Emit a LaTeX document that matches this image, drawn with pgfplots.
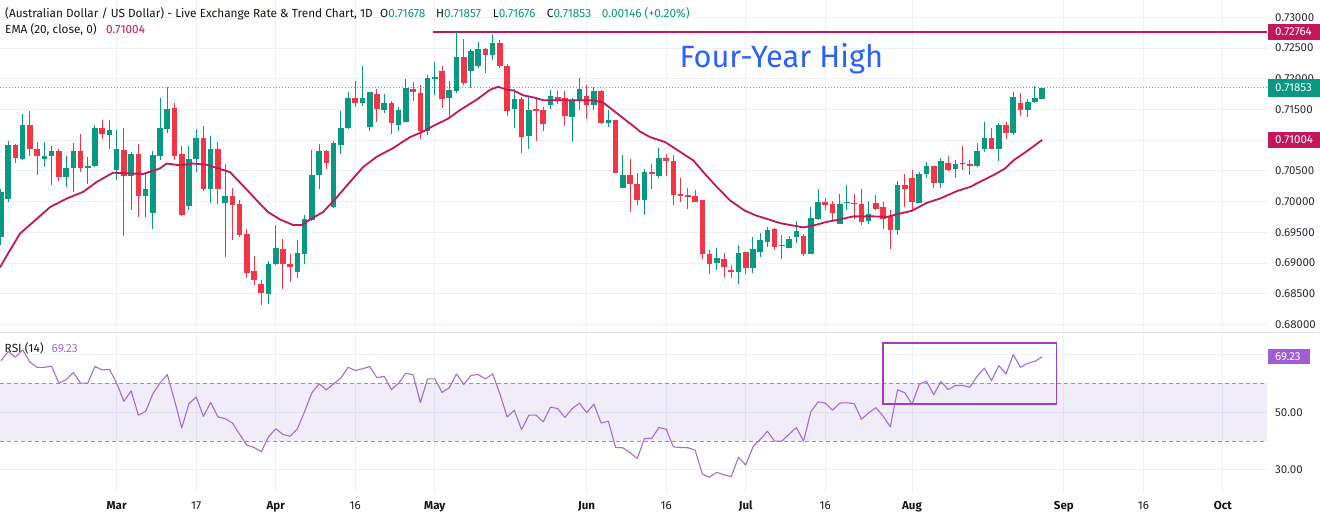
\documentclass[border=0pt]{standalone}
\usepackage{pgfplots}
\pgfplotsset{compat=1.18}
\usepackage{pgfplotstable}
\usepackage{fontspec}
\setmainfont{Fira Sans}
\definecolor{cgreen}{HTML}{089981}
\definecolor{cred}{HTML}{F23645}
\definecolor{cema}{HTML}{C2185B}
\definecolor{ctext}{HTML}{131722}
\definecolor{caxis}{HTML}{2A2E39}
\definecolor{cgrid}{HTML}{EEF1F6}
\definecolor{csep}{HTML}{E0E3EB}
\definecolor{crsi}{HTML}{A66BDC}
\definecolor{cband}{HTML}{7E57C2}
\definecolor{cdash}{HTML}{9598A1}
\definecolor{cbox}{HTML}{A23DC2}
\definecolor{crsilab}{HTML}{A25DD6}
\definecolor{cblue}{HTML}{2962FF}
\newcommand{\axfont}{\fontsize{11.5}{13}\selectfont}
\newcommand{\ttlfont}{\fontsize{11.8}{14}\selectfont}

\pgfplotstableread{
i o h l c
1 0.69423 0.70200 0.69300 0.70156
2 0.70049 0.70988 0.70000 0.70918
4 0.70701 0.71423 0.70673 0.71244
7 0.70700 0.70967 0.70564 0.70744
8 0.70739 0.70902 0.70277 0.70820
10 0.70400 0.70750 0.70238 0.70555
11 0.70543 0.70955 0.70156 0.70820
13 0.70548 0.70727 0.70293 0.70587
14 0.70581 0.71244 0.70570 0.71190
16 0.71092 0.71325 0.70864 0.71163
17 0.70511 0.71163 0.70347 0.70858
19 0.70424 0.70810 0.69858 0.70771
21 0.70086 0.70456 0.69750 0.70212
22 0.69814 0.70820 0.69560 0.70755
23 0.70739 0.71680 0.70670 0.71190
24 0.71184 0.71869 0.71118 0.71505
27 0.69923 0.70907 0.69858 0.70700
28 0.70695 0.71174 0.70483 0.71037
30 0.70212 0.71076 0.69977 0.70858
32 0.69977 0.70608 0.69097 0.70091
38 0.68500 0.69026 0.68337 0.68989
39 0.68989 0.69614 0.68961 0.69250
42 0.68852 0.69369 0.68761 0.69162
43 0.69152 0.69777 0.68989 0.69723
44 0.69706 0.70836 0.69690 0.70440
45 0.70440 0.70934 0.70212 0.70820
47 0.69912 0.70983 0.69900 0.70946
48 0.70929 0.71477 0.70782 0.71190
49 0.71190 0.71777 0.71180 0.71680
51 0.71598 0.72206 0.71553 0.71680
52 0.71216 0.71790 0.71151 0.71777
54 0.71488 0.71750 0.71435 0.71598
56 0.71255 0.71543 0.71146 0.71488
57 0.71298 0.71989 0.71290 0.71852
60 0.71146 0.72059 0.71081 0.72005
61 0.71989 0.72266 0.71733 0.72022
63 0.71680 0.71966 0.71353 0.71815
64 0.71804 0.72765 0.71771 0.72358
66 0.72125 0.72483 0.71849 0.72451
67 0.72211 0.72592 0.72179 0.72483
69 0.72390 0.72723 0.72304 0.72576
72 0.71500 0.71826 0.71190 0.71668
74 0.71064 0.71718 0.70864 0.71488
77 0.71570 0.71815 0.71505 0.71717
80 0.71380 0.71680 0.70972 0.71635
81 0.71635 0.72005 0.71488 0.71831
83 0.71570 0.71869 0.71494 0.71804
85 0.71281 0.71488 0.71216 0.71325
87 0.70228 0.70766 0.70220 0.70440
90 0.70032 0.70538 0.69788 0.70478
92 0.70412 0.70874 0.70391 0.70717
100 0.68999 0.69250 0.68880 0.69086
103 0.68852 0.69287 0.68651 0.69168
105 0.68917 0.69423 0.68836 0.69233
106 0.69178 0.69488 0.69097 0.69380
107 0.69341 0.69586 0.69260 0.69532
110 0.69243 0.69434 0.69240 0.69385
111 0.69423 0.69679 0.69325 0.69516
113 0.69152 0.69912 0.69140 0.69740
114 0.69723 0.70200 0.69695 0.69993
117 0.69641 0.70130 0.69630 0.69967
118 0.69972 0.70266 0.69858 0.69988
121 0.69684 0.70005 0.69641 0.69793
125 0.69543 0.70331 0.69462 0.70277
128 0.69977 0.70483 0.69970 0.70456
129 0.70456 0.70646 0.70391 0.70575
131 0.70304 0.70717 0.70228 0.70662
133 0.70527 0.70685 0.70391 0.70620
136 0.70581 0.70955 0.70564 0.70820
137 0.70853 0.71298 0.70809 0.71037
139 0.70864 0.71282 0.70662 0.71244
141 0.71118 0.71787 0.71081 0.71696
143 0.71488 0.71663 0.71380 0.71614
144 0.71624 0.71880 0.71598 0.71689
145 0.71678 0.71857 0.71676 0.71853
}\upc

\pgfplotstableread{
i o h l c
3 0.70923 0.70940 0.70630 0.70717
5 0.71244 0.71472 0.70750 0.70853
6 0.70858 0.70967 0.70429 0.70739
9 0.70820 0.70858 0.70331 0.70400
12 0.70820 0.71108 0.70483 0.70543
15 0.71190 0.71325 0.71027 0.71097
18 0.70847 0.71206 0.69439 0.70424
20 0.70771 0.70930 0.69750 0.70086
25 0.71526 0.71598 0.70683 0.70750
26 0.70771 0.70907 0.69760 0.69776
29 0.71037 0.71228 0.70173 0.70212
31 0.70864 0.70972 0.69969 0.70212
33 0.70091 0.70228 0.69380 0.69950
34 0.69956 0.70032 0.69423 0.69450
35 0.69472 0.69550 0.68761 0.68842
36 0.68875 0.69108 0.68635 0.68728
37 0.68656 0.68728 0.68325 0.68510
40 0.69233 0.69396 0.68581 0.68989
41 0.68989 0.69152 0.68689 0.68934
46 0.70820 0.70848 0.70538 0.70636
50 0.71680 0.71966 0.71532 0.71598
53 0.71750 0.71826 0.71298 0.71505
55 0.71608 0.71635 0.71108 0.71272
58 0.71831 0.71940 0.71635 0.71787
59 0.71761 0.71896 0.71027 0.71146
62 0.72129 0.72206 0.71526 0.71663
65 0.72348 0.72641 0.71891 0.71924
68 0.72483 0.72500 0.72087 0.72385
70 0.72586 0.72630 0.72169 0.72206
71 0.72206 0.72234 0.71396 0.71477
73 0.71663 0.71706 0.70793 0.71053
75 0.71500 0.71680 0.70988 0.71477
76 0.71488 0.71532 0.71151 0.71260
78 0.71706 0.71793 0.71581 0.71652
79 0.71680 0.71793 0.71228 0.71396
82 0.71717 0.71896 0.71342 0.71570
84 0.71804 0.71820 0.71270 0.71272
86 0.71325 0.71330 0.70460 0.70467
88 0.70440 0.70690 0.69837 0.70282
89 0.70282 0.70467 0.69940 0.70032
91 0.70483 0.70620 0.70200 0.70456
93 0.70717 0.70782 0.70412 0.70662
94 0.70657 0.70766 0.69940 0.70102
95 0.70130 0.70391 0.69993 0.70098
96 0.70102 0.70228 0.69886 0.70075
97 0.70091 0.70184 0.69990 0.69993
98 0.70021 0.70025 0.69059 0.69140
99 0.69152 0.69217 0.68815 0.68989
101 0.69070 0.69168 0.68770 0.68934
102 0.68890 0.68961 0.68761 0.68852
104 0.69178 0.69180 0.68815 0.68917
108 0.69559 0.69570 0.69217 0.69260
109 0.69287 0.69462 0.69059 0.69271
112 0.69439 0.69478 0.69113 0.69152
115 0.69988 0.70065 0.69858 0.69950
116 0.69956 0.70005 0.69684 0.69820
119 0.69983 0.70119 0.69723 0.69967
120 0.69967 0.70212 0.69614 0.69667
122 0.69977 0.70102 0.69858 0.69886
123 0.69912 0.69993 0.69560 0.69711
124 0.69760 0.69869 0.69222 0.69543
126 0.70277 0.70445 0.69912 0.70205
127 0.70391 0.70510 0.69858 0.69993
130 0.70575 0.70580 0.70228 0.70304
132 0.70630 0.70739 0.70494 0.70510
134 0.70625 0.70902 0.70510 0.70614
135 0.70620 0.70685 0.70440 0.70581
138 0.71037 0.71190 0.70850 0.70853
140 0.71244 0.71298 0.71027 0.71118
142 0.71608 0.71761 0.71396 0.71488
}\dnc

\pgfplotstableread{
i v
0.862 0.6893
2.245 0.6921
3.628 0.6948
5.467 0.6967
7.777 0.6991
10.09 0.7005
12.38 0.7016
14.24 0.7032
16.49 0.7047
20.64 0.7045
22.99 0.7054
23.92 0.7062
25.76 0.7059
27.56 0.7062
29.45 0.7060
32.67 0.7048
34.47 0.7026
36.37 0.7002
37.93 0.6983
39.59 0.6971
41.39 0.6962
42.59 0.6962
43.74 0.6971
45.54 0.6983
47.43 0.7007
49.27 0.7032
51.07 0.7056
52.96 0.7073
55.22 0.7087
57.57 0.7105
59.37 0.7114
60.75 0.7123
62.83 0.7135
64.49 0.7149
66.80 0.7166
68.64 0.7182
69.78 0.7187
70.95 0.7182
71.86 0.7181
73.24 0.7173
74.86 0.7169
76.01 0.7165
78.32 0.7165
80.63 0.7165
82.92 0.7165
84.31 0.7161
86.16 0.7144
88.46 0.7123
89.38 0.7114
90.77 0.7105
92.84 0.7097
94.92 0.7081
96.76 0.7067
98.14 0.7048
99.99 0.7024
101.83 0.7002
103.90 0.6985
105.52 0.6977
106.91 0.6972
108.75 0.6965
110.59 0.6961
111.97 0.6958
113.35 0.6961
115.20 0.6967
117.04 0.6971
118.88 0.6976
121.65 0.6976
123.50 0.6975
125.11 0.6980
126.96 0.6985
129.04 0.6998
130.88 0.7005
133.19 0.7017
135.03 0.7024
136.87 0.7035
138.25 0.7043
139.87 0.7054
141.02 0.7067
142.87 0.7082
145 0.71004
}\ema

\pgfplotstableread{
i r
1 67.9
2 71.1
3 69.1
4 71.6
5 67.4
6 65.6
7 65.6
8 66.0
9 60.1
10 61.3
11 63.8
12 60.1
13 60.1
14 65.9
15 64.7
16 64.9
17 60.1
18 53.8
19 57.4
20 49.0
21 50.3
22 56.4
23 60.2
24 63.1
25 54.1
26 44.6
27 53.0
28 55.3
29 48.6
30 53.4
31 48.4
32 47.8
33 46.3
34 42.4
35 38.6
36 37.8
37 36.3
38 41.5
39 44.3
40 42.3
41 41.7
42 44.3
43 50.3
44 56.8
45 59.9
46 57.8
47 59.9
48 61.8
49 65.6
50 64.5
51 65.1
52 65.9
53 62.0
54 62.5
55 57.9
56 60.1
57 63.6
58 63.0
59 53.4
60 61.6
61 61.6
62 56.9
63 58.5
64 63.3
65 59.7
66 62.8
67 63.1
68 61.6
69 63.3
70 56.4
71 48.4
72 50.7
73 44.0
74 49.0
75 49.0
76 46.7
77 51.8
78 51.3
79 48.2
80 51.3
81 53.2
82 49.9
83 52.8
84 46.3
85 46.9
86 37.8
87 37.7
88 36.0
89 34.0
90 40.9
91 40.9
92 44.7
93 44.1
94 38.0
95 37.8
96 37.7
97 36.9
98 28.6
99 27.5
100 29.2
101 28.3
102 27.7
103 34.4
104 31.7
105 38.0
106 40.6
107 43.4
108 40.0
109 40.0
110 42.4
111 44.7
112 40.0
113 50.1
114 53.6
115 53.2
116 50.7
117 53.2
118 53.3
119 53.0
120 47.6
121 49.8
122 51.6
123 48.7
124 44.9
125 57.8
126 56.8
127 52.8
128 59.7
129 60.8
130 56.1
131 60.7
132 57.9
133 59.3
134 59.3
135 58.7
136 62.5
137 65.3
138 61.0
139 66.2
140 63.3
141 70.0
142 65.6
143 67.0
144 67.7
145 69.23
}\rsi

\pgfplotsset{
  tvaxis/.style={
    scale only axis, anchor=south west,
    width=1267.3pt,
    xmin=0.8617, xmax=176.14,
    axis line style={draw=none},
    xtick={17,28,39,50,61,82,93,104,115,127,148,159,170},
    grid=major, major grid style={draw=cgrid, line width=1pt},
    major tick length=0pt, tick style={draw=none},
    yticklabel pos=right,
    yticklabel style={anchor=west, inner sep=0pt, xshift=7.7pt, font=\axfont, text=caxis},
    clip mode=individual,
  },
  candle/.style={only marks, mark size=0pt, mark options={draw opacity=0, fill opacity=0},
    error bars/.cd, y dir=plus, y explicit, error mark=none},
}
\tikzset{
  lbox/.style={anchor=west, inner xsep=0pt, inner ysep=0pt, text=white, font=\axfont,
    align=left},
}

\begin{document}
\begin{tikzpicture}[x=1pt,y=1pt]
\path[use as bounding box, fill=white] (0pt,0pt) rectangle (1320pt,514pt);

% ---------------- price panel ----------------
\begin{axis}[tvaxis,
  at={(0pt,181.7pt)}, height=332.3pt,
  ymin=0.67873, ymax=0.732816,
  xticklabel=\empty,
  ytick={0.68,0.685,0.69,0.695,0.70,0.705,0.71,0.715,0.72,0.725,0.73},
  yticklabels={\mbox{0.68000},\mbox{0.68500},\mbox{0.69000},\mbox{0.69500},\mbox{0.70000},\mbox{0.70500},\mbox{0.71000},\mbox{0.71500},\mbox{0.72000},\mbox{0.72500},\mbox{0.73000}},
]
\addplot[cgreen!75, line width=1pt, dash pattern=on 1pt off 2pt] coordinates {(0.8617,0.71853) (176.14,0.71853)};
\addplot[cema, line width=1.6pt] coordinates {(60.7,0.72764) (176.14,0.72764)};
% wicks
\addplot[cgreen, candle, error bar style={line width=1pt, cgreen}]
  table[x=i, y=l, y error expr=\thisrow{h}-\thisrow{l}] {\upc};
\addplot[cred, candle, error bar style={line width=1pt, cred}]
  table[x=i, y=l, y error expr=\thisrow{h}-\thisrow{l}] {\dnc};
% bodies
\addplot[cgreen, candle, error bar style={line width=5.6pt, cgreen}]
  table[x=i, y=o, y error expr={max(\thisrow{c}-\thisrow{o},0.00016)}] {\upc};
\addplot[cred, candle, error bar style={line width=5.6pt, cred}]
  table[x=i, y=c, y error expr={max(\thisrow{o}-\thisrow{c},0.00016)}] {\dnc};
% EMA
\addplot[cema, line width=1.8pt, line join=round] table[x=i, y=v] {\ema};
% price labels
\node[lbox, fill=cema, minimum height=16pt, text width=52.7pt] at (axis cs:176.14,0.72764) {\hspace*{7.7pt}0.72764};
\node[lbox, fill=cgreen, minimum height=18pt, text width=52.7pt] at (axis cs:176.14,0.71853) {\hspace*{7.7pt}0.71853};
\node[lbox, fill=cema, minimum height=16pt, text width=52.7pt] at (axis cs:176.14,0.71004) {\hspace*{7.7pt}0.71004};
\end{axis}

% ---------------- RSI panel ----------------
\begin{axis}[tvaxis,
  at={(0pt,22.3pt)}, height=159.4pt,
  ymin=22.46, ymax=77.75,
  ytick={30,50,70},
  yticklabels={\mbox{30.00},\mbox{50.00},{}},
  xticklabels={\textbf{Mar},\mbox{17},\textbf{Apr},\mbox{16},\textbf{May},\textbf{Jun},\mbox{16},\textbf{Jul},\mbox{16},\textbf{Aug},\textbf{Sep},\mbox{16},\textbf{Oct}},
  xticklabel style={anchor=base, inner sep=0pt, yshift=-17.3pt, font=\axfont, text=ctext},
]
\addplot[draw=none, fill=cband, fill opacity=0.11] coordinates {(0.8617,40) (0.8617,60) (176.14,60) (176.14,40)} -- cycle;
\addplot[cdash, line width=1pt, dash pattern=on 4pt off 3pt] coordinates {(0.8617,60) (176.14,60)};
\addplot[cdash, line width=1pt, dash pattern=on 4pt off 3pt] coordinates {(0.8617,40) (176.14,40)};
\addplot[crsi, line width=1.1pt, line join=round] table[x=i, y=r] {\rsi};
\addplot[cbox, line width=1.8pt] coordinates {(122.99,74.14) (146.99,74.14) (146.99,52.77) (122.99,52.77)} -- cycle;
\node[lbox, fill=crsilab, minimum height=15pt, text width=42pt] at (axis cs:176.14,69.23) {\hspace*{7.7pt}69.23};
\end{axis}

% separator between panels
\draw[csep, line width=1pt] (0pt,181.7pt) -- (1320pt,181.7pt);

% ---------------- legend texts ----------------
\node[anchor=base west, inner sep=0pt, font=\ttlfont, text=ctext] at (5pt,496.7pt)
  {(Australian Dollar / US Dollar) - Live Exchange Rate \& Trend Chart, 1D};
\node[anchor=base west, inner sep=0pt, font=\ttlfont, text=ctext] at (380pt,496.7pt) {O\textcolor{cgreen}{0.71678}};
\node[anchor=base west, inner sep=0pt, font=\ttlfont, text=ctext] at (436pt,496.7pt) {H\textcolor{cgreen}{0.71857}};
\node[anchor=base west, inner sep=0pt, font=\ttlfont, text=ctext] at (492.7pt,496.7pt) {L\textcolor{cgreen}{0.71676}};
\node[anchor=base west, inner sep=0pt, font=\ttlfont, text=ctext] at (546.7pt,496.7pt) {C\textcolor{cgreen}{0.71853}};
\node[anchor=base west, inner sep=0pt, font=\ttlfont, text=cgreen] at (601.7pt,496.7pt) {0.00146 (+0.20\%)};
\node[anchor=base west, inner sep=0pt, font=\ttlfont, text=ctext] at (5pt,480pt) {EMA (20, close, 0)};
\node[anchor=base west, inner sep=0pt, font=\ttlfont, text=cema] at (106pt,480pt) {0.71004};
\node[anchor=base west, inner sep=0pt, font=\ttlfont, text=ctext] at (4.5pt,161pt) {RSI (14)};
\node[anchor=base west, inner sep=0pt, font=\ttlfont, text=crsi] at (51.5pt,161pt) {69.23};
\node[anchor=base west, inner sep=0pt, font=\fontsize{30.8}{34}\selectfont, text=cblue] at (679.3pt,446.3pt) {Four-Year High};
\end{tikzpicture}
\end{document}
